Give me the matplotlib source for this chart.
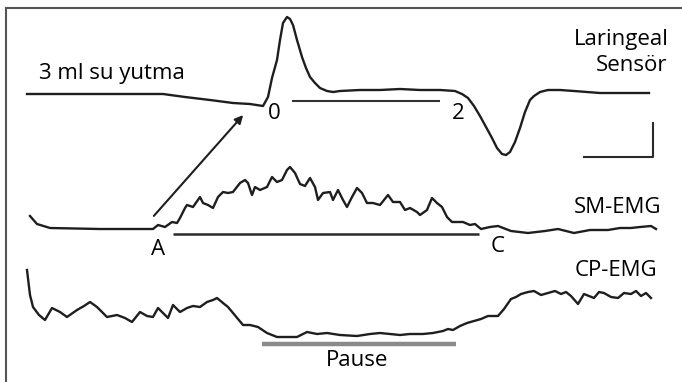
import matplotlib
matplotlib.use("Agg")
import matplotlib.pyplot as plt

# Swallow recording traces (x, y in pixel units, y downward)

laryngeal_x = [27, 60, 100, 140, 163, 185, 210, 233, 250, 263, 268, 272, 277, 280, 283, 287, 290,
               293, 297, 302, 306, 310, 315, 320, 327, 333, 340, 360, 380, 400, 420, 440, 455,
               462, 468, 474, 480, 486, 492, 497, 502, 506, 510, 515, 520, 525, 530, 534, 540,
               548, 560, 574, 600, 625, 649]
laryngeal_y = [94, 94, 94, 94, 94, 97, 100, 103, 104, 106, 97, 78, 60, 40, 23, 17, 19,
               25, 40, 57, 68, 77, 83, 88, 91, 92, 91, 90, 90, 89, 90, 90, 91,
               94, 98, 106, 116, 127, 138, 148, 154, 155, 152, 142, 128, 112, 100, 96, 92,
               90, 90, 91, 93, 93, 93]

sm_x = [30, 37, 50, 100, 140, 153, 158, 165, 172, 177, 180, 185, 187, 193, 200, 203, 208, 213,
        218, 223, 228, 233, 240, 245, 248, 252, 255, 260, 267, 272, 277, 282, 287, 290, 295,
        300, 305, 310, 315, 318, 323, 330, 333, 338, 343, 347, 352, 357, 362, 367, 373, 380,
        388, 393, 400, 405, 410, 417, 420, 427, 432, 437, 442, 447, 452, 457, 463, 470, 475,
        481, 490, 498, 511, 528, 545, 558, 574, 590, 608, 620, 631, 640, 651, 656]
sm_y = [216, 224, 228, 229, 229, 229, 225, 227, 222, 223, 218, 208, 205, 207, 197, 203, 205, 208,
        197, 192, 193, 192, 183, 180, 183, 195, 187, 190, 187, 177, 182, 180, 170, 167, 173,
        184, 186, 178, 187, 200, 193, 192, 200, 190, 200, 207, 197, 188, 193, 203, 203, 205,
        195, 202, 202, 210, 208, 212, 215, 210, 198, 203, 207, 217, 222, 222, 222, 225, 224,
        229, 227, 226, 231, 233, 231, 229, 233, 230, 230, 228, 228, 227, 226, 229]

cp_x = [27, 30, 33, 39, 45, 52, 60, 67, 77, 84, 90, 97, 107, 117, 125, 132, 140, 147, 153,
        158, 163, 168, 173, 180, 187, 193, 200, 207, 213, 217, 223, 228, 233, 238, 243, 250,
        258, 267, 277, 287, 297, 307, 317, 327, 340, 357, 370, 380, 390, 400, 410, 423, 433,
        443, 448, 453, 460, 467, 474, 481, 488, 498, 504, 511, 516, 521, 528, 534, 541, 548,
        555, 561, 566, 571, 578, 584, 589, 594, 599, 604, 611, 618, 624, 631, 636, 641, 646,
        651]
cp_y = [270, 295, 307, 315, 320, 308, 312, 317, 310, 306, 302, 307, 317, 315, 318, 322, 312,
        316, 317, 308, 313, 318, 305, 312, 308, 306, 307, 302, 300, 298, 303, 307, 313, 319,
        325, 325, 327, 333, 337, 337, 337, 332, 334, 333, 335, 336, 334, 333, 334, 335, 334,
        334, 333, 331, 329, 330, 326, 323, 321, 319, 316, 316, 309, 299, 297, 294, 292, 291,
        295, 293, 291, 294, 292, 296, 304, 294, 296, 298, 292, 293, 297, 298, 293, 294, 291,
        296, 293, 298]

# segment markers
onset_bar = (292, 440, 101)
sm_bar = (173, 479, 234)
pause_bar = (262, 456, 344)
arrow_from = (152, 218)
arrow_to = (245, 113)
scale_x = (584, 653)
scale_y = (123, 157)

ink = "#1e1e1e"

fig = plt.figure(figsize=(6.82, 3.82), dpi=100)
ax = fig.add_axes([6 / 682, 0, 676 / 682, 374 / 382])
ax.set_xlim(6, 682)
ax.set_ylim(382, 8)
ax.set_xticks([])
ax.set_yticks([])
for side in ["right", "bottom"]:
    ax.spines[side].set_visible(False)
for side in ["left", "top"]:
    ax.spines[side].set_color("#555555")
    ax.spines[side].set_linewidth(1.5)

ax.plot(laryngeal_x, laryngeal_y, color=ink, lw=1.7, solid_joinstyle="round")
ax.plot(sm_x, sm_y, color=ink, lw=1.7, solid_joinstyle="round")
ax.plot(cp_x, cp_y, color=ink, lw=1.7, solid_joinstyle="round")

ax.hlines(onset_bar[2], onset_bar[0], onset_bar[1], color="#333333", lw=1.5)
ax.hlines(sm_bar[2], sm_bar[0], sm_bar[1], color="#2a2a2a", lw=1.8)
ax.hlines(pause_bar[2], pause_bar[0], pause_bar[1], color="#8a8a8a", lw=3.2)

ax.annotate("", xy=arrow_to, xytext=arrow_from,
            arrowprops=dict(arrowstyle="-|>", color=ink, lw=1.5, mutation_scale=12))

ax.plot([scale_x[0], scale_x[1], scale_x[1]], [scale_y[1], scale_y[1], scale_y[0]],
        color="#2a2a2a", lw=1.5)

fs = 16
font = "Open Sans"
ax.text(39, 73, "3 ml su yutma", fontsize=fs, family=font, va="center", ha="left")
ax.text(669, 39, "Laringeal", fontsize=fs, family=font, va="center", ha="right")
ax.text(667, 65, "Sensör", fontsize=fs, family=font, va="center", ha="right")
ax.text(661, 207, "SM-EMG", fontsize=fs, family=font, va="center", ha="right")
ax.text(657, 271, "CP-EMG", fontsize=fs, family=font, va="center", ha="right")
ax.text(274, 113, "0", fontsize=fs, family=font, va="center", ha="center")
ax.text(458, 113, "2", fontsize=fs, family=font, va="center", ha="center")
ax.text(158, 249, "A", fontsize=fs, family=font, va="center", ha="center")
ax.text(498, 246, "C", fontsize=fs, family=font, va="center", ha="center")
ax.text(357, 360, "Pause", fontsize=fs, family=font, va="center", ha="center")

fig.savefig("out.png", dpi=100)
